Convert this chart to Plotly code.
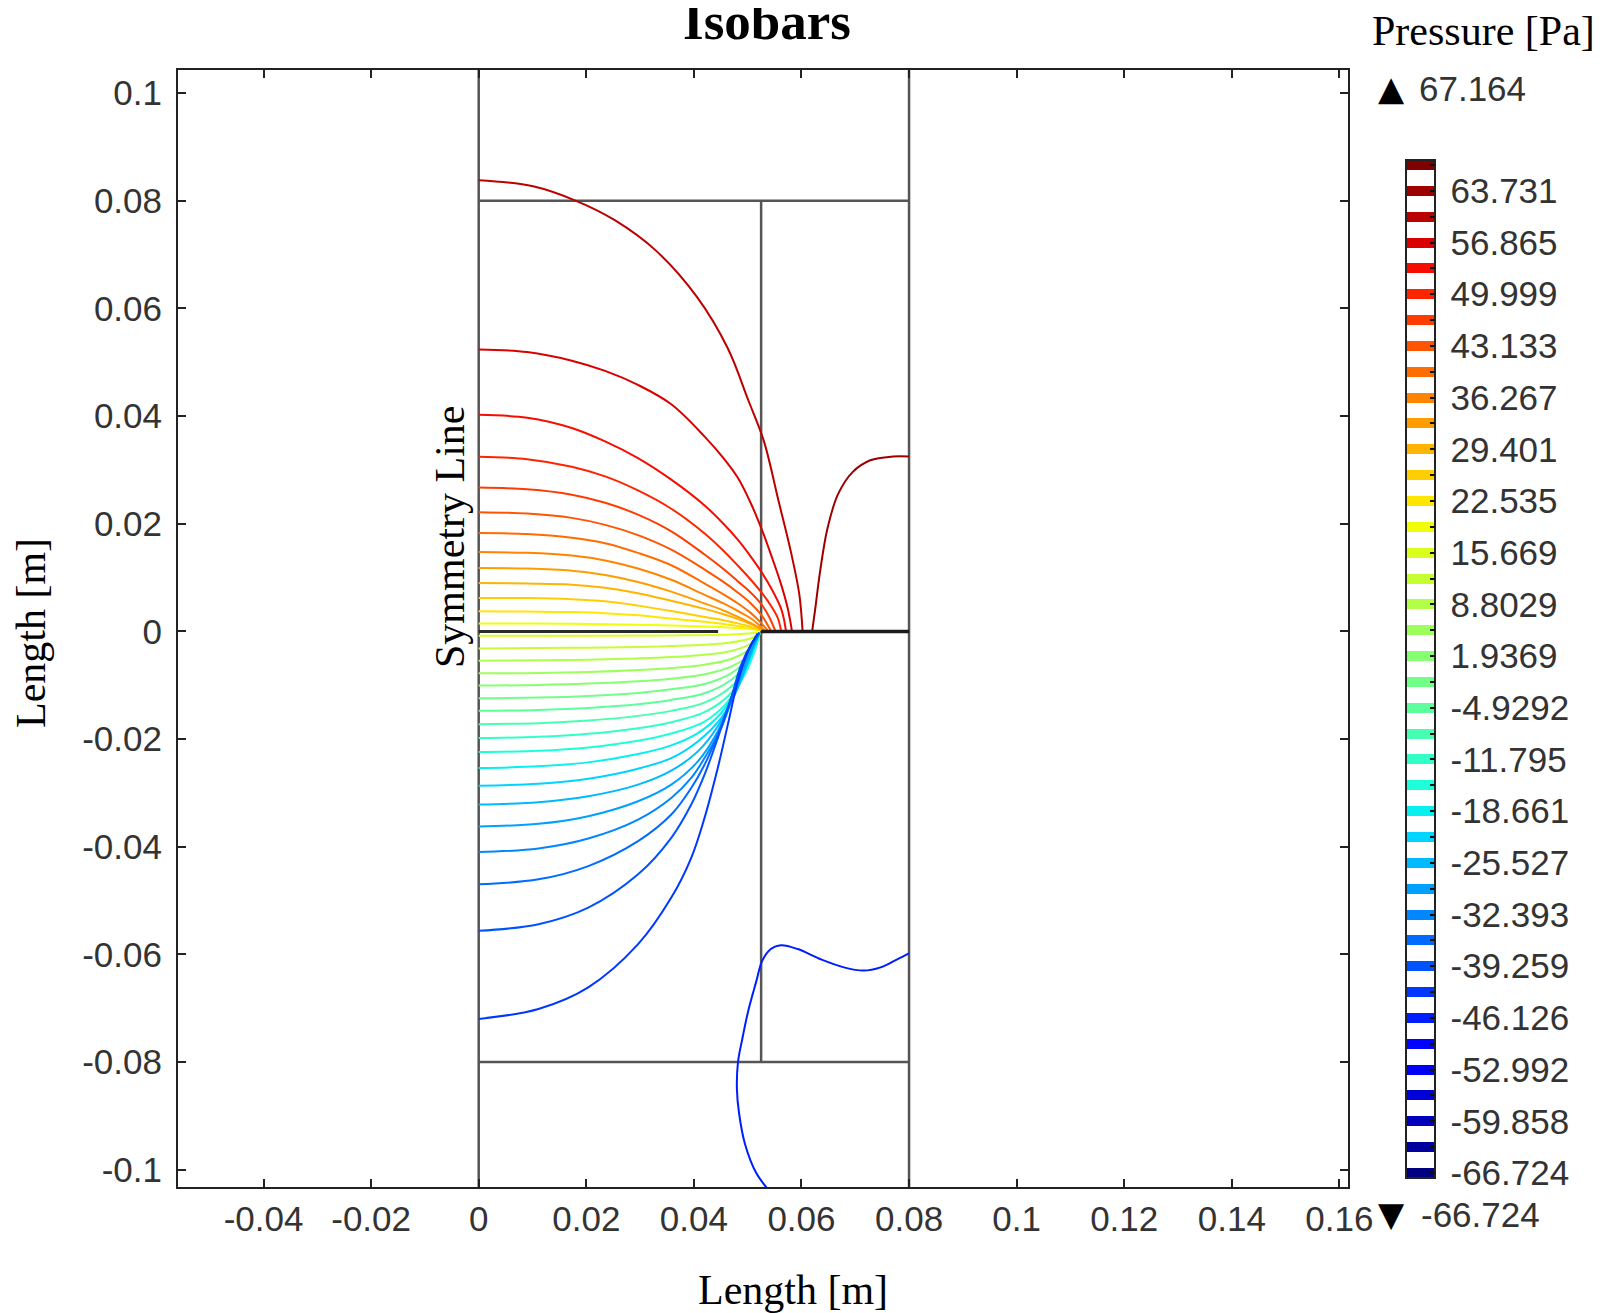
import plotly.graph_objects as go
from plotly.colors import sample_colorscale

# ---------------- data ----------------
LEVELS = [-66.724, -63.291, -59.858, -56.425, -52.992, -49.559, -46.126, -42.693,
          -39.259, -35.826, -32.393, -28.960, -25.527, -22.094, -18.661, -15.228,
          -11.795, -8.362, -4.929, -1.496, 1.937, 5.370, 8.803, 12.236,
          15.669, 19.102, 22.535, 25.968, 29.401, 32.834, 36.267, 39.700,
          43.133, 46.566, 49.999, 53.432, 56.865, 60.298, 63.731, 67.164]
P_MIN = -66.724
P_MAX = 67.164

CBAR_TICK_VALUES = [63.731, 56.865, 49.999, 43.133, 36.267, 29.401, 22.535, 15.669,
                    8.803, 1.937, -4.929, -11.795, -18.661, -25.527, -32.393,
                    -39.259, -46.126, -52.992, -59.858, -66.724]
CBAR_TICK_TEXT = ["63.731", "56.865", "49.999", "43.133", "36.267", "29.401", "22.535",
                  "15.669", "8.8029", "1.9369", "-4.9292", "-11.795", "-18.661",
                  "-25.527", "-32.393", "-39.259", "-46.126", "-52.992", "-59.858",
                  "-66.724"]

X_TICKS = [-0.04, -0.02, 0, 0.02, 0.04, 0.06, 0.08, 0.1, 0.12, 0.14, 0.16]
X_TICK_TEXT = ["-0.04", "-0.02", "0", "0.02", "0.04", "0.06", "0.08", "0.1", "0.12", "0.14", "0.16"]
Y_TICKS = [-0.1, -0.08, -0.06, -0.04, -0.02, 0, 0.02, 0.04, 0.06, 0.08, 0.1]
Y_TICK_TEXT = ["-0.1", "-0.08", "-0.06", "-0.04", "-0.02", "0", "0.02", "0.04", "0.06", "0.08", "0.1"]
X_RANGE = [-0.0559, 0.1616]
Y_RANGE = [-0.1032, 0.1043]

# geometry boundaries
SYM_X = [0.0, 0.0];         SYM_Y = [-0.11, 0.11]
OUTER_X = [0.08, 0.08];     OUTER_Y = [-0.11, 0.11]
INNER_X = [0.0525, 0.0525]; INNER_Y = [-0.08, 0.08]
TOP_X = [0.0, 0.08];        TOP_Y = [0.08, 0.08]
BOT_X = [0.0, 0.08];        BOT_Y = [-0.08, -0.08]
PLATE_X = [0.0525, 0.08];   PLATE_Y = [0.0, 0.0]
BAFFLE_X = [0.0, 0.0445];   BAFFLE_Y = [0.0, 0.0]

# isobars above the plate
XU = [0, 0.009, 0.0173, 0.0235, 0.0296, 0.0358, 0.042, 0.0455, 0.0482, 0.0505]
iso25_x = XU + [0.0526]
iso25_y = [0.00148, 0.00147, 0.00142, 0.00135, 0.00124, 0.00109, 0.00093, 0.00080, 0.00062, 0.00045, 0.0002]
iso26_x = XU + [0.0526]
iso26_y = [0.00377, 0.0037, 0.0036, 0.0034, 0.0030, 0.0024, 0.0018, 0.0014, 0.0010, 0.0006, 0.0002]
iso27_x = XU + [0.0526]
iso27_y = [0.00623, 0.0062, 0.0060, 0.0056, 0.0048, 0.0038, 0.0027, 0.0021, 0.0015, 0.0009, 0.0002]
iso28_x = XU + [0.0528]
iso28_y = [0.00901, 0.0089, 0.0087, 0.0081, 0.0071, 0.0057, 0.0042, 0.0032, 0.0023, 0.0014, 0.0002]
iso29_x = XU + [0.0530]
iso29_y = [0.01179, 0.0117, 0.0113, 0.0105, 0.0092, 0.0074, 0.0052, 0.0039, 0.0027, 0.0016, 0.0002]
iso30_x = XU + [0.0520, 0.0532]
iso30_y = [0.01475, 0.0146, 0.0141, 0.0132, 0.0117, 0.0096, 0.0068, 0.0052, 0.0038, 0.0025, 0.0013, 0.0001]
iso31_x = XU + [0.0522, 0.0537]
iso31_y = [0.01827, 0.0181, 0.0174, 0.0164, 0.0146, 0.0123, 0.0089, 0.0069, 0.0052, 0.0035, 0.0019, 0.0002]
iso32_x = XU + [0.0526, 0.0536, 0.0543]
iso32_y = [0.02216, 0.0219, 0.0211, 0.0198, 0.0179, 0.0152, 0.0115, 0.0092, 0.0072, 0.0053, 0.0030, 0.0014, 0.0002]
iso33_x = XU + [0.0526, 0.0540, 0.0551]
iso33_y = [0.02673, 0.0264, 0.0254, 0.0239, 0.0217, 0.0186, 0.0143, 0.0116, 0.0093, 0.0073, 0.0050, 0.0027, 0.0002]
iso34_x = XU + [0.0526, 0.0545, 0.0556, 0.0562]
iso34_y = [0.03247, 0.0320, 0.0306, 0.0288, 0.0262, 0.0228, 0.0182, 0.0150, 0.0122, 0.0097, 0.0072, 0.0045, 0.0025, 0.0002]
iso35_x = XU + [0.0526, 0.0545, 0.0562, 0.0568, 0.0571]
iso35_y = [0.04025, 0.0397, 0.0378, 0.0353, 0.0322, 0.0282, 0.0234, 0.0200, 0.0170, 0.0140, 0.0110, 0.0078, 0.0043, 0.0020, 0.0002]
iso36_x = XU + [0.0526, 0.0545, 0.0562, 0.0574, 0.0580, 0.0582]
iso36_y = [0.0524, 0.0519, 0.0503, 0.0484, 0.0458, 0.0422, 0.0362, 0.0322, 0.0285, 0.0240, 0.0190, 0.0138, 0.0088, 0.0045, 0.0015, 0.0002]
iso37_x = [0, 0.0101, 0.0181, 0.0253, 0.0330, 0.0406, 0.0463, 0.0501, 0.0530, 0.0558, 0.0581, 0.0596, 0.0602]
iso37_y = [0.0838, 0.0827, 0.0800, 0.0764, 0.0707, 0.0621, 0.0526, 0.0430, 0.0354, 0.0240, 0.0145, 0.0069, 0.0002]
iso38_x = [0.0620, 0.0626, 0.0634, 0.0648, 0.0668, 0.0695, 0.0728, 0.0770, 0.0800]
iso38_y = [0.0001, 0.0045, 0.0107, 0.0190, 0.0255, 0.0296, 0.0318, 0.0325, 0.0325]

# isobars below the plate
iso24_x = [0, 0.02037, 0.03580, 0.04691, 0.05222]
iso24_y = [-0.00080, -0.00080, -0.00074, -0.00056, -0.00025]
iso23_x = [0, 0.01111, 0.02037, 0.02963, 0.03580, 0.04198, 0.04691, 0.05093, 0.05222]
iso23_y = [-0.00315, -0.00309, -0.00302, -0.00290, -0.00272, -0.00247, -0.00204, -0.00117, -0.00025]
iso22_x = [0, 0.01111, 0.02037, 0.02963, 0.03580, 0.04198, 0.04691, 0.05093, 0.05222]
iso22_y = [-0.00543, -0.00537, -0.00525, -0.00500, -0.00475, -0.00432, -0.00364, -0.00204, -0.00025]
iso21_x = [0, 0.01111, 0.02037, 0.02963, 0.03580, 0.04198, 0.04691, 0.05093, 0.05222]
iso21_y = [-0.00778, -0.00772, -0.00753, -0.00716, -0.00679, -0.00617, -0.00512, -0.00284, -0.00025]
iso20_x = [0, 0.01111, 0.02037, 0.02963, 0.03580, 0.04198, 0.04691, 0.05093, 0.05222]
iso20_y = [-0.01006, -0.00994, -0.00969, -0.00926, -0.00877, -0.00796, -0.00654, -0.00377, -0.00025]
iso19_x = [0, 0.01111, 0.02037, 0.02963, 0.03580, 0.04198, 0.04691, 0.05062, 0.05222]
iso19_y = [-0.01241, -0.01228, -0.01198, -0.01142, -0.01074, -0.00975, -0.00778, -0.00438, -0.00025]
iso18_x = [0, 0.01111, 0.02037, 0.02963, 0.03580, 0.04198, 0.04691, 0.05062, 0.05222]
iso18_y = [-0.01475, -0.01457, -0.01420, -0.01352, -0.01272, -0.01148, -0.00901, -0.00500, -0.00025]
iso17_x = [0, 0.01111, 0.02037, 0.02963, 0.03580, 0.04198, 0.04691, 0.05031, 0.05222]
iso17_y = [-0.01722, -0.01704, -0.01654, -0.01568, -0.01475, -0.01321, -0.01025, -0.00593, -0.00025]
iso16_x = [0, 0.01111, 0.02037, 0.02963, 0.03580, 0.04198, 0.04691, 0.05000, 0.05222]
iso16_y = [-0.01981, -0.01957, -0.01901, -0.01796, -0.01685, -0.01500, -0.01148, -0.00685, -0.00025]
iso15_x = [0, 0.01111, 0.02037, 0.02963, 0.03580, 0.04198, 0.04630, 0.04938, 0.05123, 0.05222]
iso15_y = [-0.02241, -0.02216, -0.02154, -0.02031, -0.01895, -0.01673, -0.01302, -0.00809, -0.00377, -0.00025]
iso14_x = [0, 0.01111, 0.02037, 0.02963, 0.03580, 0.04074, 0.04506, 0.04815, 0.05062, 0.05198, 0.05222]
iso14_y = [-0.02537, -0.02506, -0.02432, -0.02278, -0.02117, -0.01889, -0.01519, -0.01025, -0.00469, -0.00080, -0.00025]
iso13_x = [0, 0.01111, 0.02037, 0.02963, 0.03580, 0.04074, 0.04506, 0.04815, 0.05031, 0.05185, 0.05222]
iso13_y = [-0.02864, -0.02827, -0.02735, -0.02549, -0.02352, -0.02043, -0.01611, -0.01056, -0.00500, -0.00099, -0.00025]
iso12_x = [0, 0.01111, 0.02037, 0.02963, 0.03580, 0.04074, 0.04444, 0.04753, 0.05000, 0.05173, 0.05222]
iso12_y = [-0.03216, -0.03173, -0.03062, -0.02846, -0.02586, -0.02228, -0.01765, -0.01179, -0.00562, -0.00130, -0.00025]
iso11_x = [0, 0.01111, 0.02037, 0.02963, 0.03580, 0.04074, 0.04444, 0.04753, 0.04969, 0.05154, 0.05222]
iso11_y = [-0.03623, -0.03574, -0.03432, -0.03154, -0.02846, -0.02414, -0.01858, -0.01148, -0.00562, -0.00161, -0.00025]
iso10_x = [0, 0.01111, 0.02037, 0.02963, 0.03580, 0.03951, 0.04198, 0.04506, 0.04753, 0.04938, 0.05123, 0.05216]
iso10_y = [-0.04099, -0.04031, -0.03846, -0.03494, -0.03093, -0.02722, -0.02352, -0.01796, -0.01117, -0.00562, -0.00161, -0.00025]
iso9_x = [0, 0.01111, 0.02037, 0.02963, 0.03580, 0.03951, 0.04198, 0.04444, 0.04691, 0.04907, 0.05093, 0.05216]
iso9_y = [-0.04698, -0.04605, -0.04358, -0.03895, -0.03401, -0.02907, -0.02475, -0.01920, -0.01241, -0.00623, -0.00191, -0.00025]
iso8_x = [0, 0.01111, 0.02037, 0.02963, 0.03580, 0.03951, 0.04198, 0.04444, 0.04691, 0.04877, 0.05093, 0.05216]
iso8_y = [-0.05562, -0.05438, -0.05130, -0.04512, -0.03833, -0.03216, -0.02660, -0.01981, -0.01241, -0.00623, -0.00191, -0.00025]
iso7_x = [0, 0.01111, 0.02037, 0.02963, 0.03580, 0.03951, 0.04198, 0.04444, 0.04630, 0.04815, 0.05000, 0.05185]
iso7_y = [-0.07198, -0.07012, -0.06611, -0.05809, -0.04944, -0.04204, -0.03463, -0.02537, -0.01735, -0.00932, -0.00377, -0.00037]
iso6_x = [0.0545, 0.0516, 0.0495, 0.0484, 0.0480, 0.0482, 0.0490, 0.0501, 0.0516, 0.0527,
          0.0543, 0.0562, 0.0593, 0.0636, 0.0679, 0.0716, 0.0747, 0.0778, 0.0800]
iso6_y = [-0.1045, -0.1006, -0.0952, -0.0895, -0.0850, -0.0800, -0.0757, -0.0705, -0.0650, -0.0612,
          -0.0590, -0.0583, -0.0590, -0.0609, -0.0624, -0.0630, -0.0624, -0.0609, -0.0598]

ISOBARS = [
    (25, iso25_x, iso25_y), (26, iso26_x, iso26_y), (27, iso27_x, iso27_y),
    (28, iso28_x, iso28_y), (29, iso29_x, iso29_y), (30, iso30_x, iso30_y),
    (31, iso31_x, iso31_y), (32, iso32_x, iso32_y), (33, iso33_x, iso33_y),
    (34, iso34_x, iso34_y), (35, iso35_x, iso35_y), (36, iso36_x, iso36_y),
    (37, iso37_x, iso37_y), (38, iso38_x, iso38_y),
    (24, iso24_x, iso24_y), (23, iso23_x, iso23_y), (22, iso22_x, iso22_y),
    (21, iso21_x, iso21_y), (20, iso20_x, iso20_y), (19, iso19_x, iso19_y),
    (18, iso18_x, iso18_y), (17, iso17_x, iso17_y), (16, iso16_x, iso16_y),
    (15, iso15_x, iso15_y), (14, iso14_x, iso14_y), (13, iso13_x, iso13_y),
    (12, iso12_x, iso12_y), (11, iso11_x, iso11_y), (10, iso10_x, iso10_y),
    (9, iso9_x, iso9_y), (8, iso8_x, iso8_y), (7, iso7_x, iso7_y), (6, iso6_x, iso6_y),
]

# ---------------- styling ----------------
JET = [[0.0, "rgb(0,0,128)"], [0.11, "rgb(0,0,255)"], [0.125, "rgb(0,0,255)"],
       [0.34, "rgb(0,219,255)"], [0.35, "rgb(0,230,247)"], [0.375, "rgb(21,255,226)"],
       [0.64, "rgb(239,255,8)"], [0.65, "rgb(247,246,0)"], [0.66, "rgb(255,236,0)"],
       [0.89, "rgb(255,19,0)"], [0.91, "rgb(232,0,0)"], [1.0, "rgb(128,0,0)"]]

SERIF = "Liberation Serif, Times New Roman, serif"
SANS = "Liberation Sans, Arial, sans-serif"
TXT = "#333333"
GEO = "#555555"

# plot-area box in page pixels
X0, X1, Y0, Y1 = 170, 1340, 62, 1179
W, H = X1 - X0, Y1 - Y0


def px(x):
    return (x - X0) / W


def py(y):
    return (Y1 - y) / H


def level_color(v):
    return sample_colorscale(JET, [(v - P_MIN) / (P_MAX - P_MIN)])[0]


fig = go.Figure()

for gx, gy in [(SYM_X, SYM_Y), (OUTER_X, OUTER_Y), (INNER_X, INNER_Y), (TOP_X, TOP_Y), (BOT_X, BOT_Y)]:
    fig.add_trace(go.Scatter(x=gx, y=gy, mode="lines", line=dict(color=GEO, width=2.5),
                             hoverinfo="skip", showlegend=False))

for k, xs, ys in ISOBARS:
    fig.add_trace(go.Scatter(x=xs, y=ys, mode="lines",
                             line=dict(color=level_color(LEVELS[k]), width=2,
                                       shape="spline", smoothing=1.0),
                             name=f"{LEVELS[k]:.3f} Pa", showlegend=False))

fig.add_trace(go.Scatter(x=PLATE_X, y=PLATE_Y, mode="lines", line=dict(color="#1a1a1a", width=3.5),
                         hoverinfo="skip", showlegend=False))
fig.add_trace(go.Scatter(x=BAFFLE_X, y=BAFFLE_Y, mode="lines", line=dict(color="#2a2a2a", width=3),
                         hoverinfo="skip", showlegend=False))

# colour legend: one band per isobar level, white between
step = (P_MAX - P_MIN) / (len(LEVELS) - 1)
half = 0.193 * step
cmin, cmax = P_MIN - half, P_MAX + half
span = cmax - cmin
cscale = []
for i, lv in enumerate(LEVELS):
    a = (lv - half - cmin) / span
    b = (lv + half - cmin) / span
    c = level_color(lv)
    if i > 0:
        cscale.append([a, "white"])
    cscale.append([a, c])
    cscale.append([b, c])
    if i < len(LEVELS) - 1:
        cscale.append([b, "white"])
cscale[0][0] = 0.0
cscale[-1][0] = 1.0

CB_GEOM = dict(x=px(1398), xanchor="left", y=py(152), yanchor="top",
               lenmode="pixels", len=1018, thickness=29, xpad=0, ypad=0)

fig.add_trace(go.Scatter(
    x=[0.0525], y=[0.0], mode="markers", hoverinfo="skip", showlegend=False,
    marker=dict(size=1, color=[P_MIN], cmin=cmin, cmax=cmax, colorscale=cscale,
                showscale=True,
                colorbar=dict(**CB_GEOM, outlinewidth=2, outlinecolor="#222222",
                              tickmode="array", tickvals=CBAR_TICK_VALUES, ticktext=CBAR_TICK_TEXT,
                              ticks="outside", ticklen=8, tickcolor="rgba(0,0,0,0)",
                              tickfont=dict(family=SANS, size=35, color=TXT)))))

# small black level marks on both edges of the legend bar
CLEAR = [[0, "rgba(0,0,0,0)"], [1, "rgba(0,0,0,0)"]]
for side in ["outside right", "outside left"]:
    fig.add_trace(go.Scatter(
        x=[0.0525], y=[0.0], mode="markers", hoverinfo="skip", showlegend=False,
        marker=dict(size=1, color=[P_MIN], cmin=cmin, cmax=cmax, colorscale=CLEAR,
                    showscale=True,
                    colorbar=dict(**CB_GEOM, outlinewidth=0, bgcolor="rgba(0,0,0,0)",
                                  tickmode="array", tickvals=LEVELS, ticks="inside",
                                  ticklen=5, tickwidth=2, tickcolor="#111111",
                                  showticklabels=False, ticklabelposition=side))))

axis_common = dict(showgrid=False, zeroline=False, showline=True, linecolor="#222222",
                   linewidth=2, mirror="ticks", ticks="inside", ticklen=8, tickwidth=2,
                   tickcolor="#222222", tickfont=dict(family=SANS, size=35, color=TXT),
                   tickmode="array")

fig.update_layout(
    width=1608, height=1313,
    margin=dict(l=X0, r=1608 - X1, t=Y0, b=1313 - Y1),
    paper_bgcolor="white", plot_bgcolor="white",
    xaxis=dict(range=X_RANGE, tickvals=X_TICKS, ticktext=X_TICK_TEXT, ticklabelstandoff=0, **axis_common),
    yaxis=dict(range=Y_RANGE, tickvals=Y_TICKS, ticktext=Y_TICK_TEXT, ticklabelstandoff=7, **axis_common),
    annotations=[
        dict(text="<b>Isobars</b>", x=px(759), y=py(13), xref="paper", yref="paper",
             xanchor="center", yanchor="middle", showarrow=False,
             font=dict(family=SERIF, size=53, color="black")),
        dict(text="Pressure [Pa]", x=px(1589), y=py(23), xref="paper", yref="paper",
             xanchor="right", yanchor="middle", showarrow=False,
             font=dict(family=SERIF, size=42, color="black")),
        dict(text="▲", x=px(1383), y=py(80), xref="paper", yref="paper",
             xanchor="center", yanchor="middle", showarrow=False,
             font=dict(family="DejaVu Sans", size=34, color="black")),
        dict(text="67.164", x=px(1409), y=py(80), xref="paper", yref="paper",
             xanchor="left", yanchor="middle", showarrow=False,
             font=dict(family=SANS, size=35, color=TXT)),
        dict(text="▼", x=px(1383), y=py(1206), xref="paper", yref="paper",
             xanchor="center", yanchor="middle", showarrow=False,
             font=dict(family="DejaVu Sans", size=34, color="black")),
        dict(text="-66.724", x=px(1411), y=py(1206), xref="paper", yref="paper",
             xanchor="left", yanchor="middle", showarrow=False,
             font=dict(family=SANS, size=35, color=TXT)),
        dict(text="Symmetry Line", x=px(442), y=py(529), xref="paper", yref="paper",
             xanchor="center", yanchor="middle", textangle=-90, showarrow=False,
             font=dict(family=SERIF, size=42, color="black")),
        dict(text="Length [m]", x=px(785), y=py(1282), xref="paper", yref="paper",
             xanchor="center", yanchor="middle", showarrow=False,
             font=dict(family=SERIF, size=42, color="black")),
        dict(text="Length [m]", x=px(23), y=py(625), xref="paper", yref="paper",
             xanchor="center", yanchor="middle", textangle=-90, showarrow=False,
             font=dict(family=SERIF, size=42, color="black")),
    ],
)

fig.write_html("out.html")
